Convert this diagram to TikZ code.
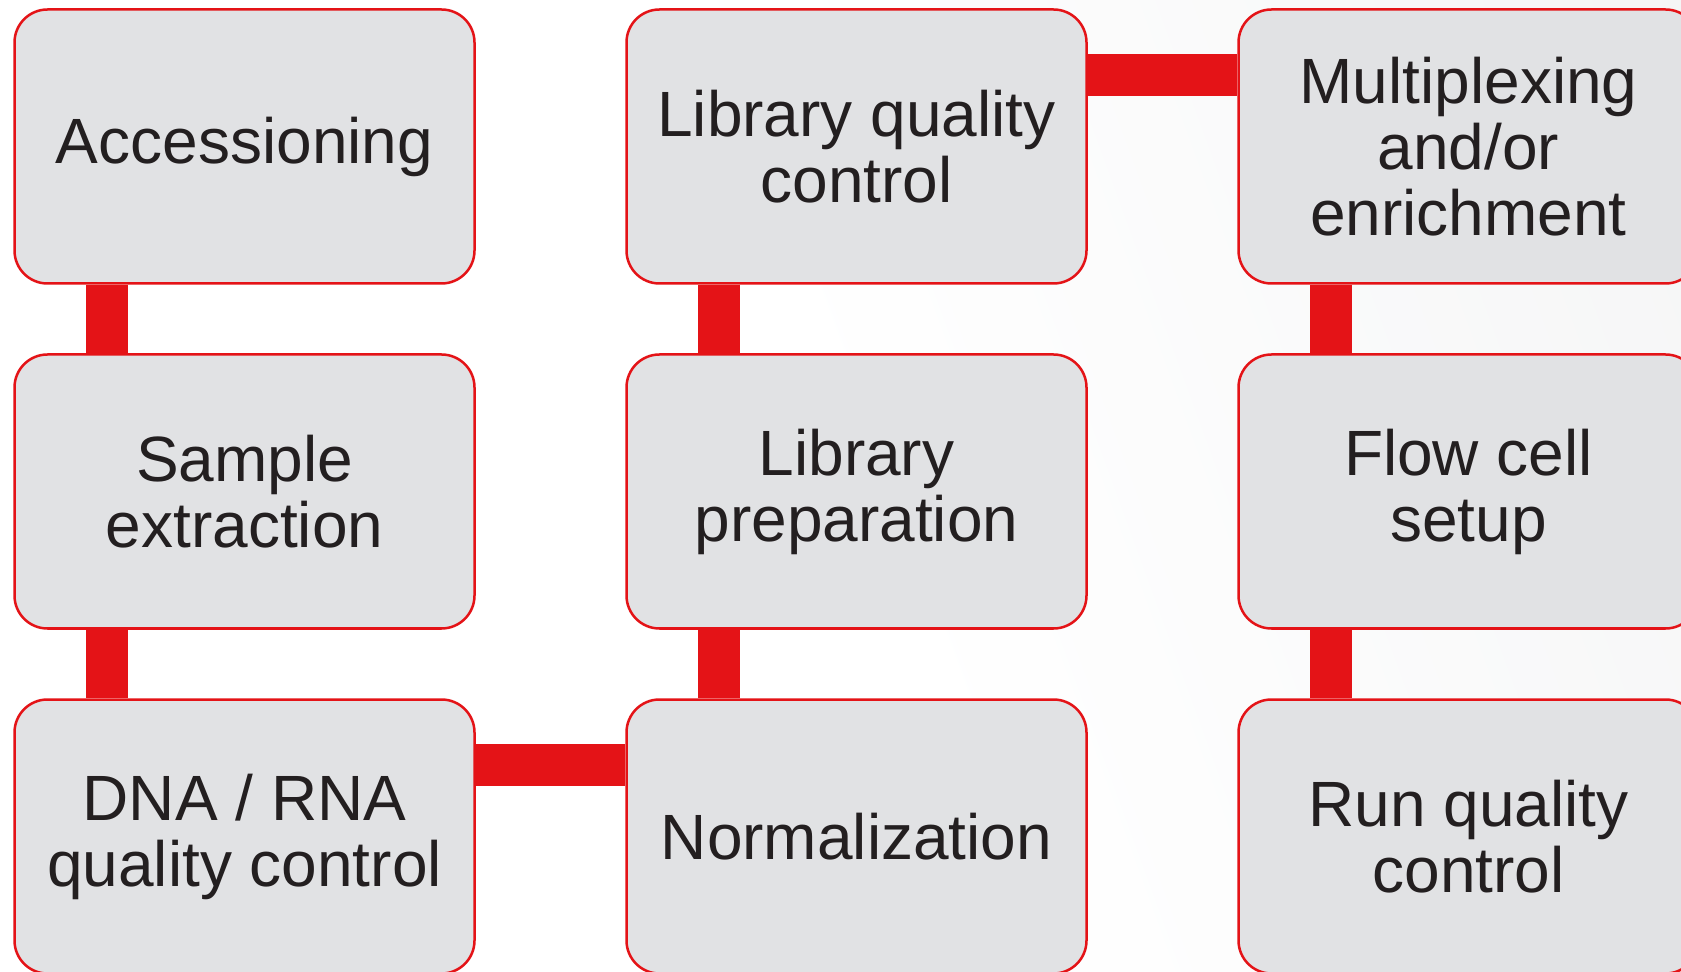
\documentclass[tikz,border=0pt]{standalone}
\usepackage{fontspec}
\setmainfont{Liberation Sans}

\definecolor{boxred}{RGB}{228,19,23}
\definecolor{boxgray}{RGB}{225,226,228}
\definecolor{textdark}{RGB}{35,31,32}
\pgfdeclarehorizontalshading{bgshade}{100bp}{color(0bp)=(white); color(50bp)=(white); color(100bp)=(boxgray!50)}

\tikzset{
	stepbox/.style={draw=boxred, line width=1.25pt, fill=boxgray, rounded corners=16.5pt,
		minimum width=230pt, minimum height=137pt, inner sep=0pt, align=center,
		text=textdark, font=\fontsize{32}{33}\selectfont},
	redlink/.style={draw=boxred, line width=21pt}
}

\begin{document}
\begin{tikzpicture}[x=0.5pt, y=-0.5pt]
		%Hintergrund
		\useasboundingbox (0,0) rectangle (1681,972);
		\shade[shading=bgshade, shading angle=20] (0,0) rectangle (1681,972);
		
		%Kaesten linke Spalte
		\node[stepbox] (acc) at (244.5,146.5) {Accessioning};
		\node[stepbox] (sam) at (244.5,491.5) {Sample\\extraction};
		\node[stepbox] (dna) at (244.5,836.5) {DNA / RNA\\quality control};
		
		%Kaesten mittlere Spalte
		\node[stepbox] (libqc) at (856.5,146.5) {Library quality\\control};
		\node[stepbox] (libprep) at (856.5,491.5) {Library\\preparation};
		\node[stepbox] (norm) at (856.5,836.5) {Normalization};
		
		%Kaesten rechte Spalte
		\node[stepbox] (mux) at (1468.5,146.5) {Multiplexing\\and/or\\enrichment};
		\node[stepbox] (flow) at (1468.5,491.5) {Flow cell\\setup};
		\node[stepbox] (runqc) at (1468.5,836.5) {Run quality\\control};
		
		%senkrechte Balken
		\draw[redlink] ([xshift=-68.75pt]acc.south) -- ([xshift=-68.75pt]sam.north);
		\draw[redlink] ([xshift=-68.75pt]sam.south) -- ([xshift=-68.75pt]dna.north);
		\draw[redlink] ([xshift=-68.75pt]libqc.south) -- ([xshift=-68.75pt]libprep.north);
		\draw[redlink] ([xshift=-68.75pt]libprep.south) -- ([xshift=-68.75pt]norm.north);
		\draw[redlink] ([xshift=-68.75pt]mux.south) -- ([xshift=-68.75pt]flow.north);
		\draw[redlink] ([xshift=-68.75pt]flow.south) -- ([xshift=-68.75pt]runqc.north);
		
		%waagrechte Balken
		\draw[redlink] ([yshift=35.75pt]dna.east) -- ([yshift=35.75pt]norm.west);
		\draw[redlink] ([yshift=35.75pt]libqc.east) -- ([yshift=35.75pt]mux.west);
		
\end{tikzpicture}
\end{document}
